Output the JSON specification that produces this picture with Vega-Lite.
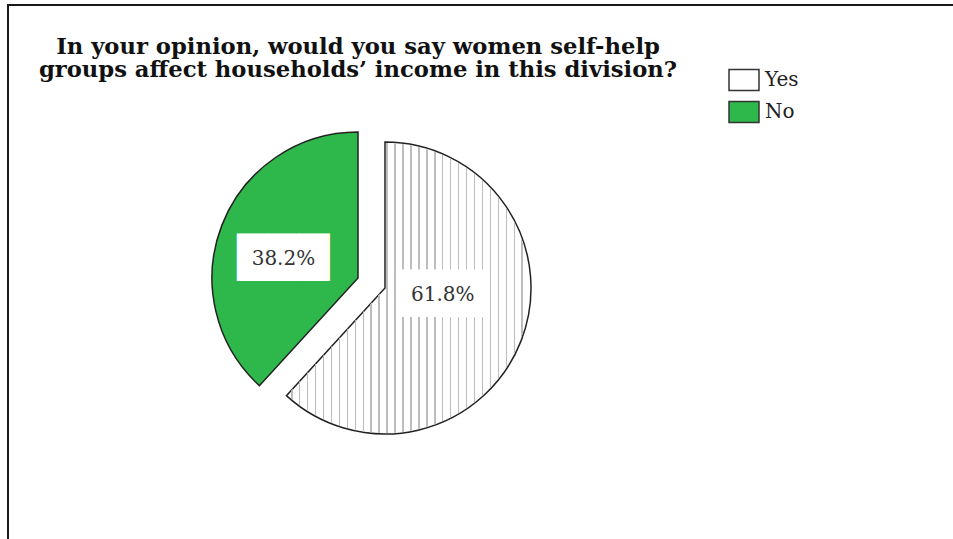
{
  "$schema": "https://vega.github.io/schema/vega-lite/v6.json",
  "autosize": {"type": "none"},
  "width": 960,
  "height": 550,
  "padding": {"left": 8, "top": 5, "right": 0, "bottom": 0},
  "background": "white",
  "view": {"stroke": "#1a1a1a", "strokeWidth": 2},
  "title": {
    "text": ["In your opinion, would you say women self-help", "groups affect households’ income in this division?"],
    "font": "DejaVu Serif",
    "fontSize": 22.7,
    "fontWeight": "bold",
    "color": "#111111",
    "anchor": "middle",
    "dx": -130,
    "dy": 77,
    "offset": 0,
    "lineHeight": 23
  },
  "data": {"values": [
    {"answer": "Yes", "share": 0.618},
    {"answer": "No", "share": 0.382}
  ]},
  "encoding": {
    "theta": {"field": "share", "type": "quantitative", "stack": true},
    "order": {"field": "answer", "sort": "descending"}
  },
  "layer": [
    {
      "mark": {"type": "arc", "radius": 146, "stroke": "#222222", "strokeWidth": 1.5,
        "xOffset": {"expr": "datum.answer === 'No' ? -130 : -103"},
        "yOffset": {"expr": "datum.answer === 'No' ? -2 : 8"}},
      "encoding": {
        "color": {"field": "answer", "type": "nominal",
          "scale": {"domain": ["Yes", "No"], "range": ["#ffffff", "#2eb84c"]},
          "legend": {
            "orient": "none", "legendX": 720, "legendY": 59, "title": null,
            "symbolType": "M-1,-0.7H1V0.7H-1Z", "symbolSize": 900,
            "symbolStrokeColor": "#333333", "symbolStrokeWidth": 1.5,
            "labelFont": "DejaVu Serif", "labelFontSize": 20, "labelColor": "#222222",
            "labelOffset": 5, "rowPadding": 2, "padding": 0,
            "encode": {"symbols": {"update": {
              "stroke": {"value": "#333333"},
              "strokeWidth": {"value": 1.5},
              "opacity": {"value": 1},
              "fill": [
                {"test": "datum.value === 'Yes'", "value": {"gradient": "linear", "x1": 0, "y1": 0, "x2": 1, "y2": 0, "stops": [
                  {"offset": 0, "color": "#ffffff"}, {"offset": 0.31, "color": "#ffffff"}, {"offset": 0.31, "color": "#888888"}, {"offset": 0.36, "color": "#888888"}, {"offset": 0.36, "color": "#ffffff"},
                  {"offset": 0.62, "color": "#ffffff"}, {"offset": 0.62, "color": "#888888"}, {"offset": 0.67, "color": "#888888"}, {"offset": 0.67, "color": "#ffffff"}, {"offset": 1, "color": "#ffffff"}]}},
                {"value": "#2eb84c"}
              ]
            }}}
          }}
      }
    },
    {
      "mark": {"type": "arc", "radius": 145, "strokeWidth": 0,
        "xOffset": {"expr": "datum.answer === 'No' ? -130 : -103"},
        "yOffset": {"expr": "datum.answer === 'No' ? -2 : 8"}},
      "encoding": {
        "fill": {"condition": {"test": "datum.answer === 'Yes'", "value": {"gradient": "linear", "x1": 0, "y1": 0, "x2": 1, "y2": 0, "stops": [
          {"offset": 0.0164, "color": "rgba(255,255,255,0)"}, {"offset": 0.0164, "color": "#bdbdbd"}, {"offset": 0.0224, "color": "#bdbdbd"}, {"offset": 0.0224, "color": "rgba(255,255,255,0)"},
          {"offset": 0.0491, "color": "rgba(255,255,255,0)"}, {"offset": 0.0491, "color": "#bdbdbd"}, {"offset": 0.0551, "color": "#bdbdbd"}, {"offset": 0.0551, "color": "rgba(255,255,255,0)"},
          {"offset": 0.0818, "color": "rgba(255,255,255,0)"}, {"offset": 0.0818, "color": "#bdbdbd"}, {"offset": 0.0878, "color": "#bdbdbd"}, {"offset": 0.0878, "color": "rgba(255,255,255,0)"},
          {"offset": 0.1145, "color": "rgba(255,255,255,0)"}, {"offset": 0.1145, "color": "#bdbdbd"}, {"offset": 0.1205, "color": "#bdbdbd"}, {"offset": 0.1205, "color": "rgba(255,255,255,0)"},
          {"offset": 0.1472, "color": "rgba(255,255,255,0)"}, {"offset": 0.1472, "color": "#bdbdbd"}, {"offset": 0.1532, "color": "#bdbdbd"}, {"offset": 0.1532, "color": "rgba(255,255,255,0)"},
          {"offset": 0.1799, "color": "rgba(255,255,255,0)"}, {"offset": 0.1799, "color": "#bdbdbd"}, {"offset": 0.1859, "color": "#bdbdbd"}, {"offset": 0.1859, "color": "rgba(255,255,255,0)"},
          {"offset": 0.2126, "color": "rgba(255,255,255,0)"}, {"offset": 0.2126, "color": "#bdbdbd"}, {"offset": 0.2186, "color": "#bdbdbd"}, {"offset": 0.2186, "color": "rgba(255,255,255,0)"},
          {"offset": 0.2453, "color": "rgba(255,255,255,0)"}, {"offset": 0.2453, "color": "#bdbdbd"}, {"offset": 0.2513, "color": "#bdbdbd"}, {"offset": 0.2513, "color": "rgba(255,255,255,0)"},
          {"offset": 0.2780, "color": "rgba(255,255,255,0)"}, {"offset": 0.2780, "color": "#bdbdbd"}, {"offset": 0.2840, "color": "#bdbdbd"}, {"offset": 0.2840, "color": "rgba(255,255,255,0)"},
          {"offset": 0.3107, "color": "rgba(255,255,255,0)"}, {"offset": 0.3107, "color": "#bdbdbd"}, {"offset": 0.3167, "color": "#bdbdbd"}, {"offset": 0.3167, "color": "rgba(255,255,255,0)"},
          {"offset": 0.3434, "color": "rgba(255,255,255,0)"}, {"offset": 0.3434, "color": "#bdbdbd"}, {"offset": 0.3494, "color": "#bdbdbd"}, {"offset": 0.3494, "color": "rgba(255,255,255,0)"},
          {"offset": 0.3761, "color": "rgba(255,255,255,0)"}, {"offset": 0.3761, "color": "#bdbdbd"}, {"offset": 0.3821, "color": "#bdbdbd"}, {"offset": 0.3821, "color": "rgba(255,255,255,0)"},
          {"offset": 0.4088, "color": "rgba(255,255,255,0)"}, {"offset": 0.4088, "color": "#bdbdbd"}, {"offset": 0.4148, "color": "#bdbdbd"}, {"offset": 0.4148, "color": "rgba(255,255,255,0)"},
          {"offset": 0.4415, "color": "rgba(255,255,255,0)"}, {"offset": 0.4415, "color": "#bdbdbd"}, {"offset": 0.4475, "color": "#bdbdbd"}, {"offset": 0.4475, "color": "rgba(255,255,255,0)"},
          {"offset": 0.4742, "color": "rgba(255,255,255,0)"}, {"offset": 0.4742, "color": "#bdbdbd"}, {"offset": 0.4802, "color": "#bdbdbd"}, {"offset": 0.4802, "color": "rgba(255,255,255,0)"},
          {"offset": 0.5070, "color": "rgba(255,255,255,0)"}, {"offset": 0.5070, "color": "#bdbdbd"}, {"offset": 0.5130, "color": "#bdbdbd"}, {"offset": 0.5130, "color": "rgba(255,255,255,0)"},
          {"offset": 0.5397, "color": "rgba(255,255,255,0)"}, {"offset": 0.5397, "color": "#bdbdbd"}, {"offset": 0.5457, "color": "#bdbdbd"}, {"offset": 0.5457, "color": "rgba(255,255,255,0)"},
          {"offset": 0.5724, "color": "rgba(255,255,255,0)"}, {"offset": 0.5724, "color": "#bdbdbd"}, {"offset": 0.5784, "color": "#bdbdbd"}, {"offset": 0.5784, "color": "rgba(255,255,255,0)"},
          {"offset": 0.6051, "color": "rgba(255,255,255,0)"}, {"offset": 0.6051, "color": "#bdbdbd"}, {"offset": 0.6111, "color": "#bdbdbd"}, {"offset": 0.6111, "color": "rgba(255,255,255,0)"},
          {"offset": 0.6378, "color": "rgba(255,255,255,0)"}, {"offset": 0.6378, "color": "#bdbdbd"}, {"offset": 0.6438, "color": "#bdbdbd"}, {"offset": 0.6438, "color": "rgba(255,255,255,0)"},
          {"offset": 0.6705, "color": "rgba(255,255,255,0)"}, {"offset": 0.6705, "color": "#bdbdbd"}, {"offset": 0.6765, "color": "#bdbdbd"}, {"offset": 0.6765, "color": "rgba(255,255,255,0)"},
          {"offset": 0.7032, "color": "rgba(255,255,255,0)"}, {"offset": 0.7032, "color": "#bdbdbd"}, {"offset": 0.7092, "color": "#bdbdbd"}, {"offset": 0.7092, "color": "rgba(255,255,255,0)"},
          {"offset": 0.7359, "color": "rgba(255,255,255,0)"}, {"offset": 0.7359, "color": "#bdbdbd"}, {"offset": 0.7419, "color": "#bdbdbd"}, {"offset": 0.7419, "color": "rgba(255,255,255,0)"},
          {"offset": 0.7686, "color": "rgba(255,255,255,0)"}, {"offset": 0.7686, "color": "#bdbdbd"}, {"offset": 0.7746, "color": "#bdbdbd"}, {"offset": 0.7746, "color": "rgba(255,255,255,0)"},
          {"offset": 0.8013, "color": "rgba(255,255,255,0)"}, {"offset": 0.8013, "color": "#bdbdbd"}, {"offset": 0.8073, "color": "#bdbdbd"}, {"offset": 0.8073, "color": "rgba(255,255,255,0)"},
          {"offset": 0.8340, "color": "rgba(255,255,255,0)"}, {"offset": 0.8340, "color": "#bdbdbd"}, {"offset": 0.8400, "color": "#bdbdbd"}, {"offset": 0.8400, "color": "rgba(255,255,255,0)"},
          {"offset": 0.8667, "color": "rgba(255,255,255,0)"}, {"offset": 0.8667, "color": "#bdbdbd"}, {"offset": 0.8727, "color": "#bdbdbd"}, {"offset": 0.8727, "color": "rgba(255,255,255,0)"},
          {"offset": 0.8994, "color": "rgba(255,255,255,0)"}, {"offset": 0.8994, "color": "#bdbdbd"}, {"offset": 0.9054, "color": "#bdbdbd"}, {"offset": 0.9054, "color": "rgba(255,255,255,0)"},
          {"offset": 0.9321, "color": "rgba(255,255,255,0)"}, {"offset": 0.9321, "color": "#bdbdbd"}, {"offset": 0.9381, "color": "#bdbdbd"}, {"offset": 0.9381, "color": "rgba(255,255,255,0)"},
          {"offset": 0.9648, "color": "rgba(255,255,255,0)"}, {"offset": 0.9648, "color": "#bdbdbd"}, {"offset": 0.9708, "color": "#bdbdbd"}, {"offset": 0.9708, "color": "rgba(255,255,255,0)"}
        ]}}, "value": "transparent"}
      }
    },
    {
      "mark": {"type": "text", "font": "DejaVu Sans", "fontSize": 40, "color": "#ffffff", "align": "center", "baseline": "middle",
        "radius": {"expr": "datum.answer === 'No' ? 80 : 62"},
        "xOffset": {"expr": "datum.answer === 'No' ? -130 : -103"},
        "yOffset": {"expr": "datum.answer === 'No' ? 8 : -7"}},
      "encoding": {"text": {"value": "███"}}
    },
    {
      "mark": {"type": "text", "font": "DejaVu Serif", "fontSize": 20, "color": "#333333", "align": "center", "baseline": "middle",
        "radius": {"expr": "datum.answer === 'No' ? 80 : 62"},
        "xOffset": {"expr": "datum.answer === 'No' ? -130 : -103"},
        "yOffset": {"expr": "datum.answer === 'No' ? 8 : -7"}},
      "encoding": {"text": {"field": "share", "type": "quantitative", "format": ".1%"}}
    }
  ]
}
